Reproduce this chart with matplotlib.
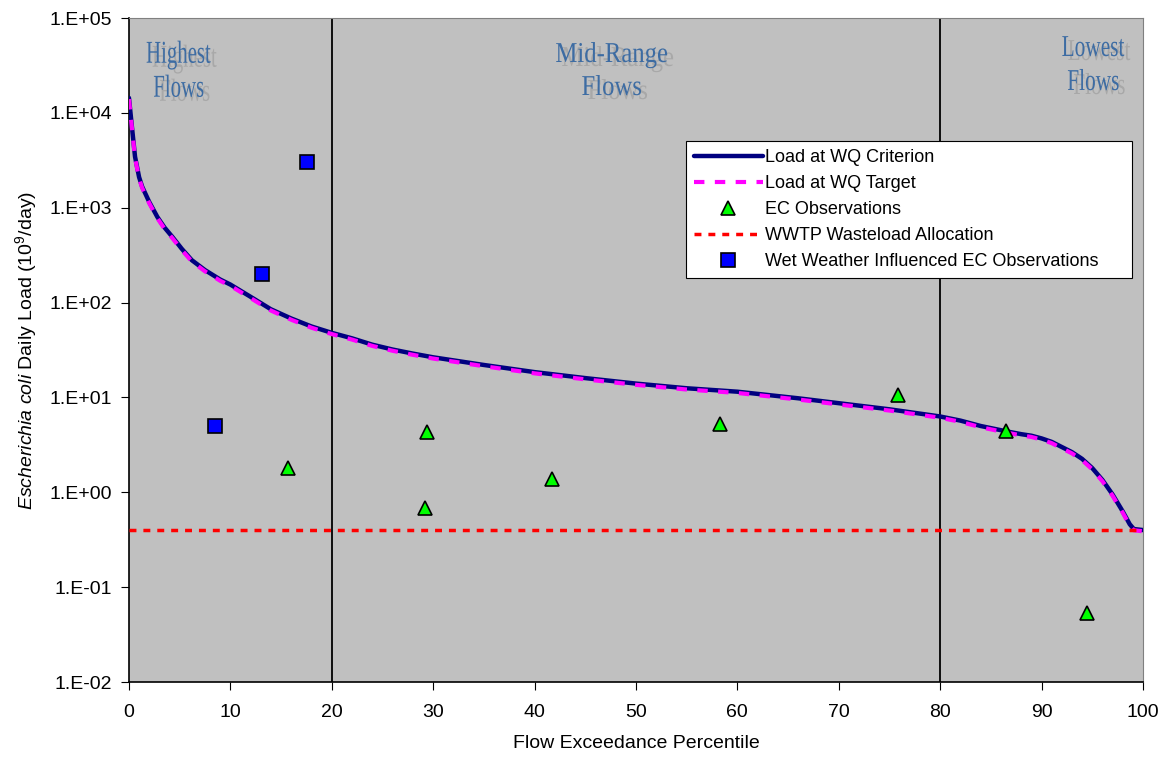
import math
import matplotlib
matplotlib.use("Agg")
import matplotlib.pyplot as plt
from matplotlib.font_manager import FontProperties
from matplotlib.patches import PathPatch
from matplotlib.textpath import TextPath
from matplotlib.transforms import Affine2D
from matplotlib.ticker import FixedLocator, FuncFormatter

plt.rcParams['font.family'] = ['Liberation Sans', 'DejaVu Sans']
plt.rcParams['mathtext.fontset'] = 'custom'
plt.rcParams['mathtext.rm'] = 'Liberation Sans'
plt.rcParams['mathtext.it'] = 'Liberation Sans:italic'

# Load duration curve (flow exceedance percentile, load 10^9/day)
pct = [0, 0.3, 0.6, 1.0, 1.3, 2, 2.8, 3.5, 4.3, 5.2, 6.2, 7.5, 9, 10, 12, 14, 16,
       18, 20, 22, 24, 26, 28, 30, 35, 40, 45, 50, 55, 60, 66, 70, 75, 80, 82,
       84, 86.5, 88, 89, 90, 91, 92, 93, 94, 95, 96, 97, 98, 98.7, 99.1, 100]
load_criterion = [14400, 7000, 3450, 2100, 1670, 1150, 800, 620, 490, 370, 280,
                  220, 175, 155, 115, 85, 68, 56, 48, 42, 36, 32, 29, 26.5, 22,
                  18.5, 16, 14, 12.5, 11.5, 9.8, 8.7, 7.5, 6.3, 5.7, 5.0, 4.4,
                  4.1, 3.95, 3.7, 3.4, 3.0, 2.65, 2.25, 1.8, 1.35, 0.95, 0.63,
                  0.46, 0.41, 0.4]
load_target = [v * 0.97 for v in load_criterion]

wla_pct = [0, 100]
wla_load = [0.4, 0.4]

obs_pct = [15.7, 29.2, 29.4, 41.7, 58.3, 75.8, 86.5, 94.5]
obs_load = [1.8, 0.68, 4.3, 1.37, 5.3, 10.5, 4.4, 0.053]

wet_pct = [8.5, 13.1, 17.6]
wet_load = [4.95, 202, 3000]

zone_labels = [["Highest", "Flows"], ["Mid-Range", "Flows"], ["Lowest", "Flows"]]
zone_x = [4.9, 47.6, 95.1]
zone_y = [33800, 34400, 39800]   # baseline of first line
zone_cap = [21, 19, 20]          # cap height, px
zone_width = [64, 111, 62]       # width of widest line, px
zone_gap = [34, 33, 34]          # baseline-to-baseline, px
zone_bounds = [20, 80]


def squeezed_label(ax, x, y, lines, cap_px, width_px, gap_px):
    # the zone labels are narrow, tall serif text with a soft grey shadow
    fp = FontProperties(family="Liberation Serif")
    size = cap_px / 0.66
    paths = [TextPath((0, 0), l, size=size, prop=fp) for l in lines]
    sx = width_px / max(p.get_extents().width for p in paths)
    px, py = ax.transData.transform((x, y))
    for i, tp in enumerate(paths):
        ext = tp.get_extents()
        base = Affine2D().translate(-(ext.x0 + ext.width / 2), 0).scale(sx, 1)
        for dx, dy, col, z in [(6, -4, "#a8a8a8", 6), (0, 0, "#3d6ca3", 7)]:
            tr = base + Affine2D().translate(px + dx, py - i * gap_px + dy)
            ax.add_artist(PathPatch(tp, transform=tr, fc=col, ec="none", lw=0, zorder=z))


fig = plt.figure(figsize=(11.67, 7.61), dpi=100)
ax = fig.add_axes([0.1105, 0.1038, 0.8689, 0.8725])
ax.set_facecolor("#c0c0c0")

ax.plot(pct, load_criterion, color="#000080", lw=3.2, solid_capstyle="round",
        label="Load at WQ Criterion", zorder=3)
ax.plot(pct, load_target, color="#ff00ff", lw=3, dashes=(2.5, 2.5),
        label="Load at WQ Target", zorder=4)
ax.plot(obs_pct, obs_load, linestyle="none", marker="^", markersize=10,
        markerfacecolor="#00ff00", markeredgecolor="black", markeredgewidth=1.2,
        label="EC Observations", zorder=5)
ax.plot(wla_pct, wla_load, color="#ff0000", lw=2.5, dashes=(2, 2),
        label="WWTP Wasteload Allocation", zorder=4)
ax.plot(wet_pct, wet_load, linestyle="none", marker="s", markersize=10,
        markerfacecolor="#0000ff", markeredgecolor="black", markeredgewidth=1.2,
        label="Wet Weather Influenced EC Observations", zorder=5)

for b in zone_bounds:
    ax.axvline(b, color="black", lw=1.3, zorder=2)

ax.set_yscale("log")
ax.set_xlim(0, 100)
ax.set_ylim(1e-2, 1e5)

for lines, xpos, ypos, cap, wid, gap in zip(zone_labels, zone_x, zone_y, zone_cap,
                                           zone_width, zone_gap):
    squeezed_label(ax, xpos, ypos, lines, cap, wid, gap)

ax.xaxis.set_major_locator(FixedLocator(range(0, 101, 10)))
ax.yaxis.set_major_locator(FixedLocator([10.0 ** k for k in range(-2, 6)]))
ax.yaxis.set_minor_locator(FixedLocator([]))
ax.yaxis.set_major_formatter(FuncFormatter(lambda v, p: "1.E%+03d" % round(math.log10(v))))
ax.tick_params(axis="both", direction="out", length=6, labelsize=14, pad=6)
ax.tick_params(axis="x", pad=10)

for s in ["top", "right"]:
    ax.spines[s].set_color("#808080")
for s in ["left", "bottom"]:
    ax.spines[s].set_color("black")
    ax.spines[s].set_linewidth(1.2)

ax.set_xlabel("Flow Exceedance Percentile", fontsize=14, labelpad=10)
ax.set_ylabel(r"$\mathit{Escherichia\ coli}$ Daily Load (10$^{9}$/day)", fontsize=14,
              labelpad=8)

leg = ax.legend(loc="upper left", bbox_to_anchor=(0.5493, 0.609, 0.4398, 0.206),
                mode="expand", borderaxespad=0, fontsize=13, frameon=True,
                fancybox=False, edgecolor="black", framealpha=1, handlelength=3.8,
                borderpad=0.45, labelspacing=0.5, handletextpad=0.15)
leg.get_frame().set_linewidth(0.8)

fig.savefig("out.png", dpi=100)
